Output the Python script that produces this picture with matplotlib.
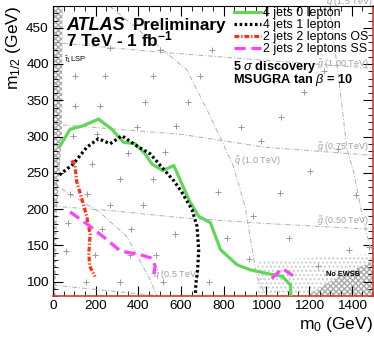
import numpy as np
import matplotlib
matplotlib.use("Agg")
import matplotlib.pyplot as plt
from matplotlib.patches import Polygon

plt.rcParams['font.family'] = ['Liberation Sans', 'DejaVu Sans']
plt.rcParams['mathtext.fontset'] = 'custom'
plt.rcParams['mathtext.rm'] = 'Liberation Sans'
plt.rcParams['mathtext.it'] = 'Liberation Sans:italic'
plt.rcParams['mathtext.bf'] = 'Liberation Sans:bold'

# 5 sigma discovery reach curves (m0, m1/2 in GeV)
green_m0 = [33, 80, 143, 213, 276, 330, 385, 432, 464, 515, 566, 640, 683, 738, 785, 863, 926, 1004, 1075, 1114, 1114]
green_m12 = [287, 310, 315, 324, 310, 292, 290, 276, 262, 253, 260, 211, 190, 181, 144, 123, 116, 111, 107, 95, 81]

black_m0 = [30, 95, 158, 213, 268, 323, 393, 456, 518, 566, 600, 652, 675, 683, 678, 670, 667]
black_m12 = [247, 262, 285, 297, 290, 301, 287, 276, 255, 239, 225, 199, 176, 144, 116, 98, 81]

red_m0 = [88, 103, 111, 135, 158, 174, 168, 172, 197]
red_m12 = [267, 260, 238, 214, 190, 165, 139, 121, 107]

ss_m0 = [80, 174, 252, 315, 409, 464, 479, 471]
ss_m12 = [196, 176, 158, 142, 137, 132, 121, 109]
ss2_m0 = [1025, 1075, 1125]
ss2_m12 = [104, 118, 108]

# iso-mass lines
q05_m0 = [0, 221, 346, 456, 487]
q05_m12 = [235, 195, 162, 102, 80]
q10_m0 = [265, 517, 627, 720, 791, 844, 900, 955, 1000]
q10_m12 = [480, 419, 392, 338, 294, 260, 204, 107, 80]
q15_m0 = [1295, 1335, 1378, 1410, 1444, 1475, 1500]
q15_m12 = [480, 390, 283, 250, 199, 160, 140]
g050_m0 = [0, 300, 600, 1000, 1500]
g050_m12 = [204, 197, 188, 180, 172]
g075_m0 = [0, 600, 1000, 1500]
g075_m12 = [317, 303, 285, 274]
g100_m0 = [0, 470, 1000, 1500]
g100_m12 = [430, 417, 405, 394]
low_m0 = [0, 470]
low_m12 = [95, 81]

# excluded regions
lsp_m0 = [0, 45, 42, 30, 18, 12, 0]
lsp_m12 = [480, 480, 300, 250, 200, 80, 80]
ewsb_m0 = [1190, 1330, 1420, 1500, 1500]
ewsb_m12 = [80, 106, 118, 128, 80]
dots_m0 = [960, 960, 1500, 1500]
dots_m12 = [80, 128, 138, 80]

# scan points
pts_m0 = [103, 244, 470, 691, 747, 1269, 1034, 103, 221, 432, 635, 1175, 1067, 578, 879, 973, 1335,
          207, 353, 503, 268, 393, 94, 526, 185, 315, 470, 80, 158, 267, 420, 71, 228, 573, 367,
          61, 196, 360, 484, 155, 313, 517, 1206, 1065, 772, 815, 1105, 1480, 1387, 1243, 938,
          1419, 918, 730]
pts_m12 = [384, 384, 384, 384, 419, 391, 376, 342, 342, 348, 348, 361, 327, 315, 313, 294, 283,
           304, 277, 419, 422, 313, 301, 278, 262, 241, 241, 221, 221, 206, 206, 181, 172, 166, 172,
           142, 136, 136, 136, 100, 100, 100, 253, 222, 224, 160, 160, 148, 143, 121, 190,
           220, 131, 100]

fig = plt.figure(figsize=(3.74, 3.37), dpi=100)
ax = fig.add_axes([53 / 374, 41 / 337, 320 / 374, 290 / 337])

ax.add_patch(Polygon(np.column_stack([dots_m0, dots_m12]), closed=True, facecolor='none',
                     edgecolor='#cccccc', hatch='....', lw=0))
ax.add_patch(Polygon(np.column_stack([lsp_m0, lsp_m12]), closed=True, facecolor='white',
                     edgecolor='#aaaaaa', hatch='xxxxxx', lw=0))
ax.add_patch(Polygon(np.column_stack([ewsb_m0, ewsb_m12]), closed=True, facecolor='white',
                     edgecolor='#aaaaaa', hatch='xxxxxx', lw=0))

iso = dict(color='#b0b0b0', lw=0.7, ls=(0, (5, 2, 1, 2)), zorder=2)
for xs, ys in [(q05_m0, q05_m12), (q10_m0, q10_m12), (q15_m0, q15_m12), (g050_m0, g050_m12),
               (g075_m0, g075_m12), (g100_m0, g100_m12), (low_m0, low_m12)]:
    ax.plot(xs, ys, **iso)

ax.plot(pts_m0, pts_m12, ls='none', marker='+', ms=5, mew=0.7, color='#9a9a9a', zorder=2)

gray = '#a0a0a0'
ax.text(1480, 390, r'$\tilde{g}$ (1.00 TeV)', fontsize=6.5, color=gray, ha='right', va='bottom')
ax.text(1480, 276, r'$\tilde{g}$ (0.75 TeV)', fontsize=6.5, color=gray, ha='right', va='bottom')
ax.text(1480, 174, r'$\tilde{g}$ (0.50 TeV)', fontsize=6.5, color=gray, ha='right', va='bottom')
ax.text(1280, 476, r'$\tilde{q}$ (1.5 TeV)', fontsize=6.5, color=gray, ha='left', va='bottom')
ax.text(850, 256, r'$\tilde{q}$ (1.0 TeV)', fontsize=6.5, color=gray, ha='left', va='bottom')
ax.text(470, 100, r'$\tilde{q}$ (0.5 TeV)', fontsize=6.5, color=gray, ha='left', va='bottom')

ax.plot(green_m0, green_m12, color='#62d65a', lw=2.3, label='4 jets 0 lepton', zorder=5)
ax.plot(black_m0, black_m12, color='black', lw=2.3, ls=(0, (0.8, 0.8)), label='4 jets 1 lepton', zorder=5)
ax.plot(red_m0, red_m12, color='#ff3010', lw=2.3, ls=(0, (1.5, 0.6, 0.4, 0.6)),
        label='2 jets 2 leptons OS', zorder=5)
ax.plot(ss_m0, ss_m12, color='#ff40ff', lw=2.3, ls=(0, (3.5, 1.8)), label='2 jets 2 leptons SS', zorder=5)
ax.plot(ss2_m0, ss2_m12, color='#ff40ff', lw=2.3, ls=(0, (3.5, 1.8)), zorder=5)

leg = ax.legend(loc='upper left', bbox_to_anchor=(0.565, 0.995), frameon=False, fontsize=8.9,
                handlelength=2.2, handletextpad=0.2, labelspacing=0.0, borderpad=0,
                borderaxespad=0)

ax.text(61, 447, 'ATLAS', fontsize=13, fontweight='bold', fontstyle='italic')
ax.text(375, 447, 'Preliminary', fontsize=12.3, fontweight='bold')
ax.text(61, 424, r'7 TeV - 1 fb$^{\mathbf{-1}}$', fontsize=12.3, fontweight='bold')
ax.text(50, 403, r'$\tilde{\tau}_1$LSP', fontsize=5.5)
ax.text(845, 392, r'5 $\sigma$ discovery', fontsize=9.2, fontweight='bold')
ax.text(845, 374, r'MSUGRA tan $\beta$ = 10', fontsize=9.2, fontweight='bold')
ax.text(1280, 108, 'No EWSB', fontsize=5.3, fontweight='bold')

ax.set_xlim(0, 1500)
ax.set_ylim(80, 480)
ax.set_xticks([0, 200, 400, 600, 800, 1000, 1200, 1400])
ax.set_xticks(np.arange(0, 1501, 50), minor=True)
ax.set_yticks([100, 150, 200, 250, 300, 350, 400, 450])
ax.set_yticks(np.arange(80, 481, 10), minor=True)
ax.tick_params(which='both', direction='in', top=True, right=True, labelsize=9.7, pad=3)
ax.tick_params(which='major', length=7, width=0.8)
ax.tick_params(which='minor', length=3.5, width=0.6)
ax.spines['bottom'].set_color('#d04030')
ax.spines['right'].set_color('#d04030')
ax.spines['bottom'].set_linewidth(1.2)
ax.spines['right'].set_linewidth(1.2)

ax.set_xlabel(r'm$_0$ (GeV)', fontsize=12.5, loc='right', labelpad=2)
ax.set_ylabel(r'm$_{1/2}$ (GeV)', fontsize=12.5, loc='top', labelpad=2)

fig.savefig('out.png', dpi=100)
